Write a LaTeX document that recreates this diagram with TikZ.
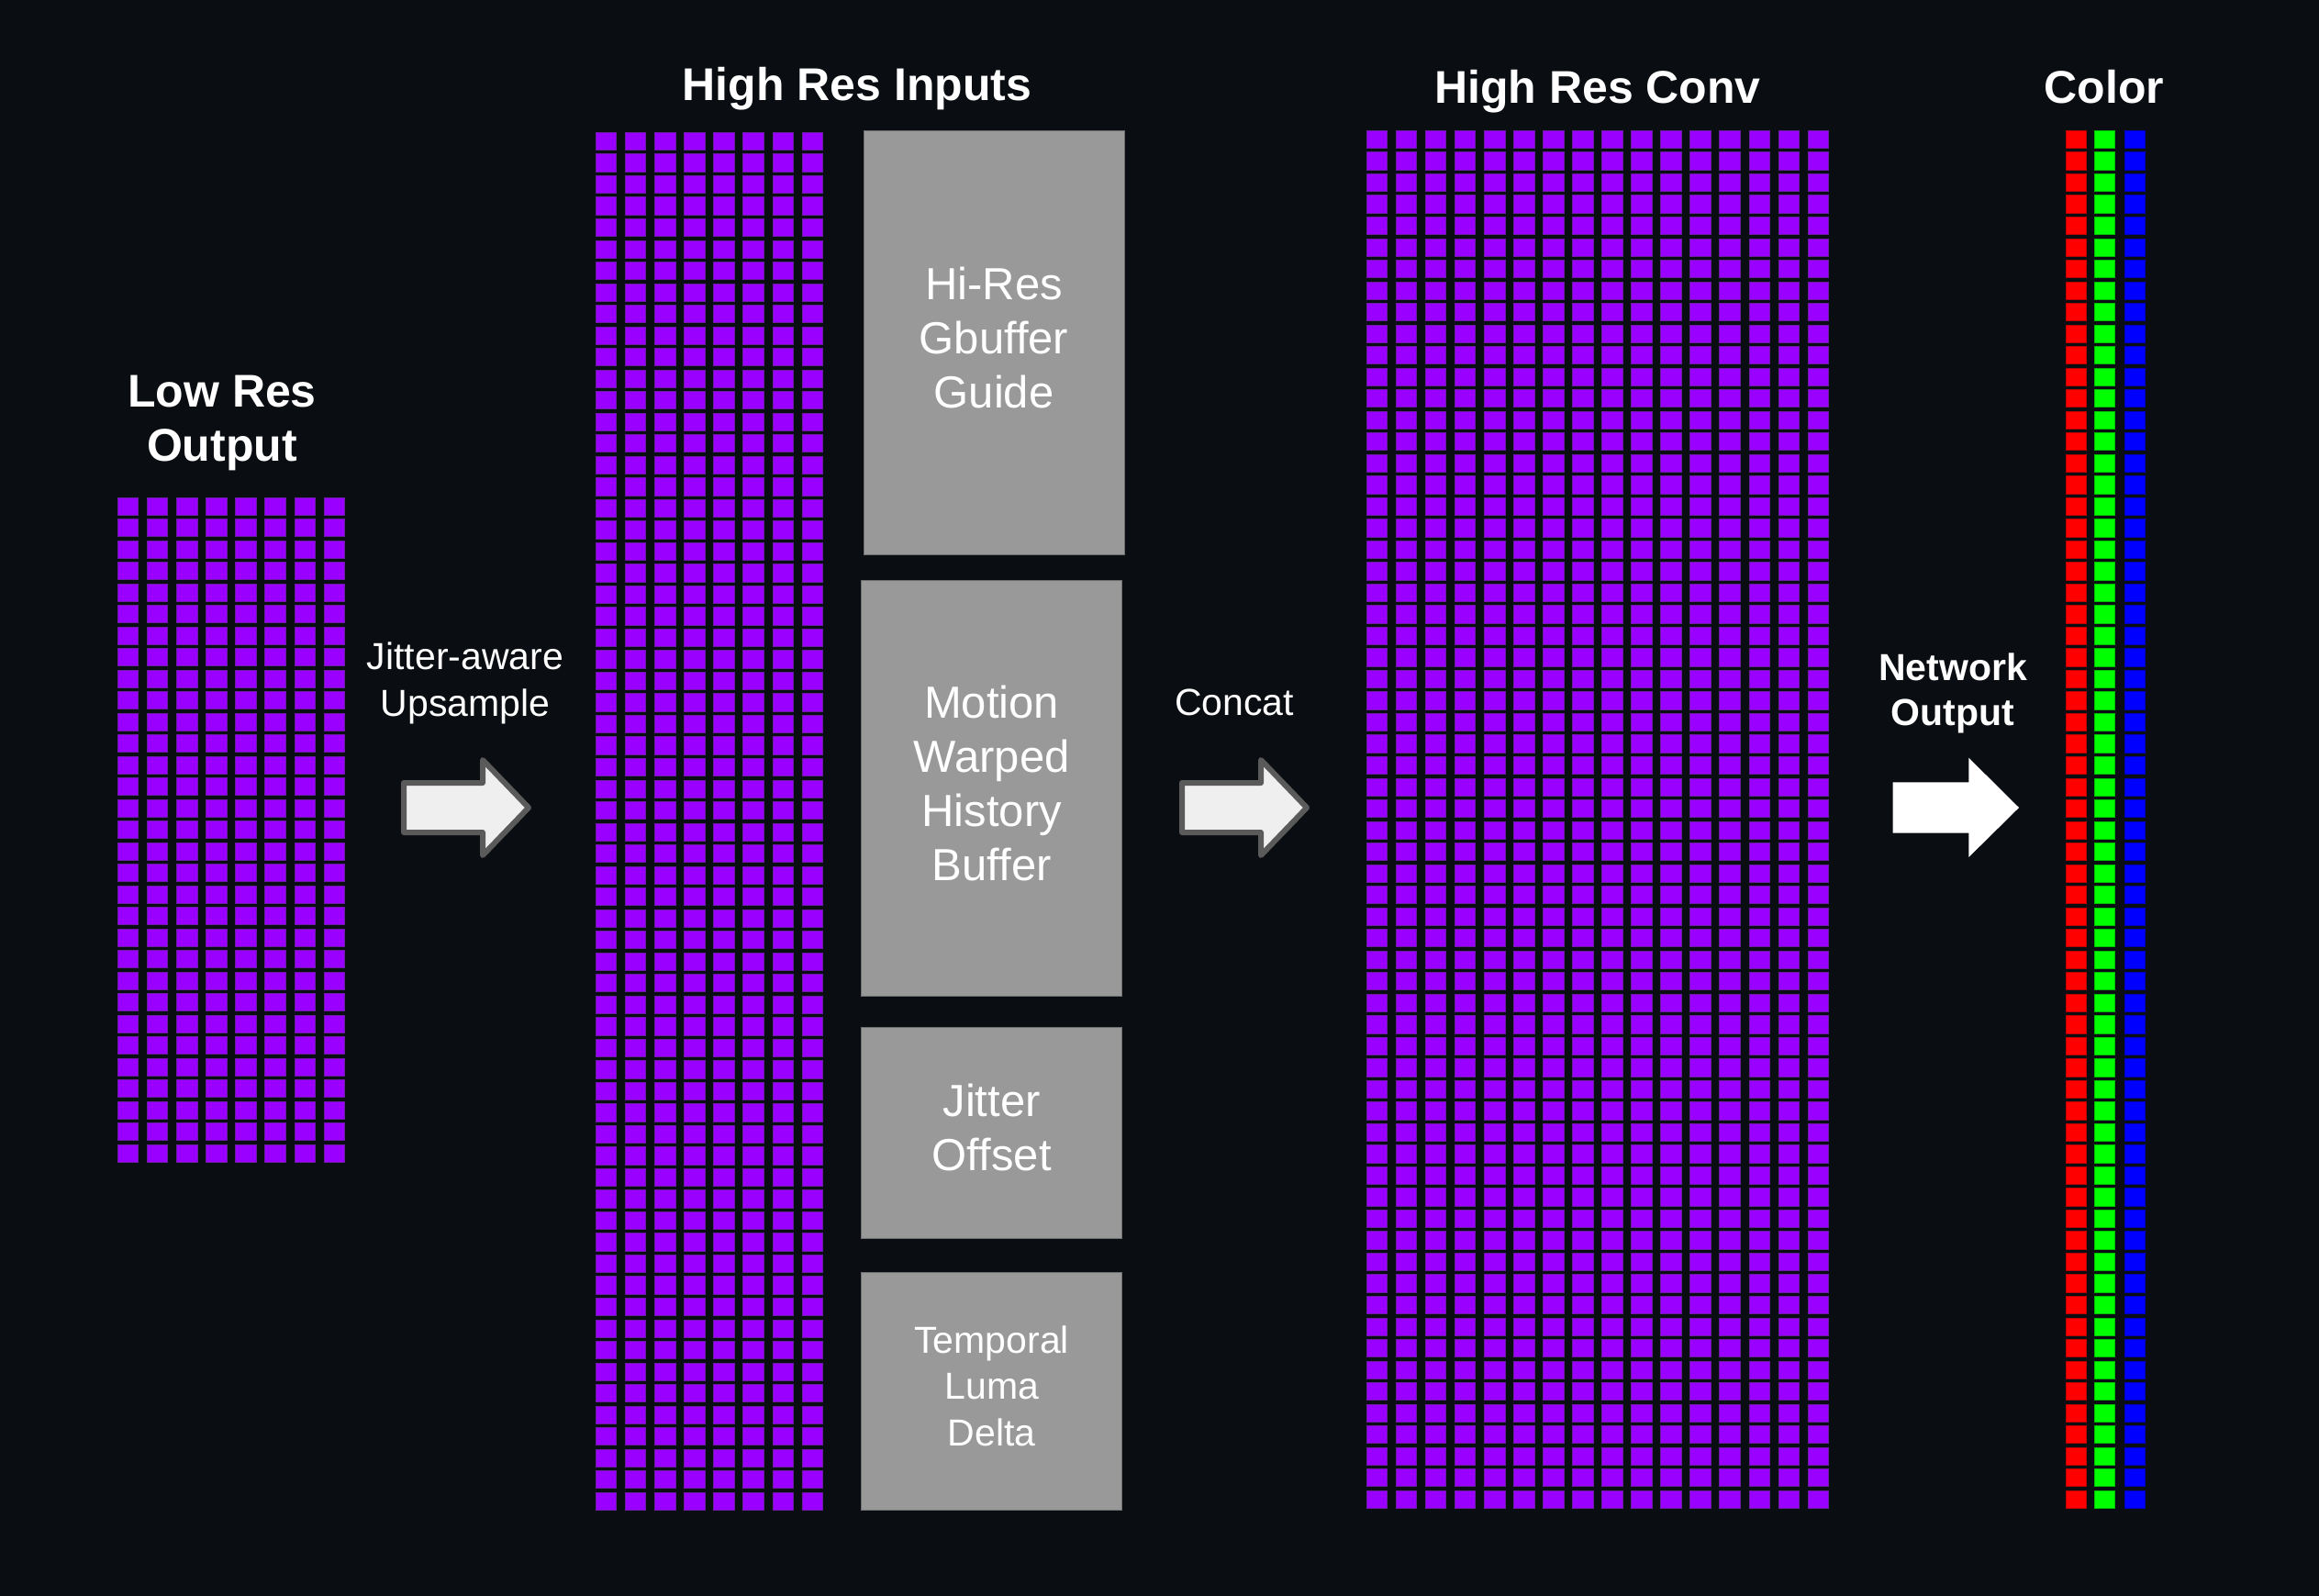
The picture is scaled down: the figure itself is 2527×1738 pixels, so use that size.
\documentclass[tikz,border=0pt]{standalone}
\usepackage{fontspec}
\setmainfont{Liberation Sans}
\definecolor{bgdark}{RGB}{10,13,18}
\definecolor{cellpurple}{RGB}{153,0,255}
\definecolor{celledge}{RGB}{108,28,165}
\definecolor{boxgray}{RGB}{153,153,153}
\definecolor{boxedge}{RGB}{110,110,110}
\definecolor{arrowedge}{RGB}{90,90,90}
\definecolor{arrowfill}{RGB}{239,239,239}
\tikzset{
  title/.style={text=white,font=\bfseries\fontsize{50}{59}\selectfont,anchor=base},
  sidelabel/.style={text=white,align=center,font=\fontsize{41}{50.7}\selectfont},
  boldlabel/.style={text=white,align=center,font=\bfseries\fontsize{41}{49}\selectfont},
  inbox/.style={fill=boxgray,draw=boxedge,line width=1pt,text=white,align=center,
    minimum width=284pt,text depth=11pt,font=\fontsize{49}{59}\selectfont},
  cell/.style={fill=cellpurple,draw=celledge,line width=0.8pt},
  grayarrow/.style={fill=arrowfill,draw=arrowedge,line width=6pt,line join=round},
}
\begin{document}
\begin{tikzpicture}[x=1pt,y=-1pt]
  \useasboundingbox (0,0) rectangle (2527,1738);
  \fill[bgdark] (-10,-10) rectangle (2537,1748);
  % low res output
  \foreach \c in {0,...,7}
    \foreach \r in {0,...,30}
      \filldraw[cell] ({128.3+32.1*\c},{542+23.5*\r}) rectangle ++(22.4,19.3);
  \node[title,align=center,anchor=center] (lowtitle) at (242,460.6) {Low Res\\Output};
  % high res inputs
  \foreach \c in {0,...,7}
    \foreach \r in {0,...,63}
      \filldraw[cell] ({649.3+32.1*\c},{144.3+23.52*\r}) rectangle ++(22.4,19.3);
  \node[title] (inputtitle) at (934,109.3) {High Res Inputs};
  \node[inbox,minimum height=461.5pt] (gbuf) at (1083,373.5) {Hi-Res\\Gbuffer\\Guide};
  \node[inbox,minimum height=453pt] (history) at (1080.7,858.5) {Motion\\Warped\\History\\Buffer};
  \node[inbox,minimum height=230pt] (jitter) at (1080.7,1234) {Jitter\\Offset};
  \node[inbox,minimum height=259pt,font=\fontsize{41}{50.7}\selectfont] (lumadelta) at (1080.7,1515.5) {Temporal\\Luma\\Delta};
  % high res conv
  \foreach \c in {0,...,15}
    \foreach \r in {0,...,63}
      \filldraw[cell] ({1489+32.07*\c},{142.3+23.52*\r}) rectangle ++(22.6,19.3);
  \node[title] (convtitle) at (1741,112.3) {High Res Conv};
  % color
  \foreach \x/\col in {2251/red,2282.7/green,2315/blue}
    \foreach \r in {0,...,63}
      \filldraw[fill=\col,draw=\col!75!black,line width=0.8pt] (\x,{142.3+23.52*\r}) rectangle ++(22,19.3);
  \node[title] (colortitle) at (2293,112) {Color};
  % arrows
  \node[sidelabel] (uplabel) at (507,744.3) {Jitter-aware\\Upsample};
  \draw[grayarrow] (440,853) -- (526,853) -- (526,828) -- (576,880) -- (526,932) -- (526,907) -- (440,907) -- cycle;
  \node[sidelabel,anchor=base] (concatlabel) at (1345,779) {Concat};
  \draw[grayarrow,shift={(848,0)}] (440,853) -- (526,853) -- (526,828) -- (576,880) -- (526,932) -- (526,907) -- (440,907) -- cycle;
  \node[boldlabel] (netlabel) at (2128,755.1) {Network\\Output};
  \fill[white] (2062.7,852.3) -- (2145.3,852.3) -- (2145.3,825.7) -- (2200,880) -- (2145.3,934) -- (2145.3,907.7) -- (2062.7,907.7) -- cycle;
\end{tikzpicture}
\end{document}
